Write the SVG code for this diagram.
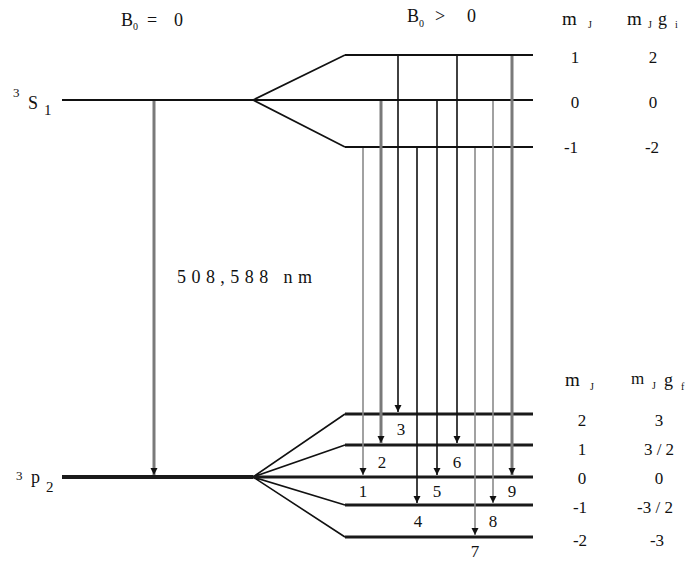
<svg xmlns="http://www.w3.org/2000/svg" width="693" height="561" viewBox="0 0 693 561">
<defs>
<marker id="ah" markerUnits="userSpaceOnUse" markerWidth="8" markerHeight="8" refX="7" refY="3.5" orient="auto">
<path d="M0,0 L7,3.5 L0,7 z" fill="#111"/>
</marker>
<style>
text{font-family:"Liberation Serif","Times New Roman",serif;fill:#111}
.lvl{stroke:#111;stroke-width:2;fill:none}
.lvlb{stroke:#1a1a1a;stroke-width:3;fill:none}
.fan{stroke:#111;stroke-width:1.6;fill:none}
.tk{stroke:#111;stroke-width:1.6;marker-end:url(#ah)}
.tg{stroke:#7a7a7a;stroke-width:3;marker-end:url(#ah)}
.tl{stroke:#8a8a8a;stroke-width:1.6;marker-end:url(#ah)}
.v{font-size:17px;text-anchor:middle}
.n{font-size:17px;text-anchor:middle}
.m{font-size:19px}
.s{font-size:10px}
</style>
</defs>
<rect width="693" height="561" fill="#fff"/>

<g id="headers">
<text x="121" y="26" font-size="18">B</text><text x="133" y="30" class="s">0</text>
<text x="147" y="26" font-size="18">=</text><text x="174" y="26" font-size="18">0</text>
<text x="407" y="22" font-size="18">B</text><text x="419" y="27" class="s">0</text>
<text x="435" y="22" font-size="18">&gt;</text><text x="467" y="22" font-size="18">0</text>
<text x="562" y="25" class="m">m</text><text x="588" y="28" class="s">J</text>
<text x="627" y="25" class="m">m</text><text x="648" y="28" class="s">J</text><text x="658" y="25" font-size="18">g</text><text x="675" y="28" class="s">i</text>
<text x="565" y="386" class="m">m</text><text x="590" y="390" class="s">J</text>
<text x="631" y="384" font-size="17">m</text><text x="652" y="389" class="s">J</text><text x="664" y="386" font-size="18">g</text><text x="681" y="390" class="s">f</text>
</g>

<g id="level-3S1">
<text x="13" y="97" font-size="13">3</text><text x="28" y="109" font-size="18">S</text><text x="44" y="115" font-size="15">1</text>
<line class="lvl" x1="62" y1="100" x2="253" y2="100"/>
<path class="fan" d="M253,100 L345,55 M253,100 L345,147"/>
</g>

<g id="level-3S1-mJ">
<line class="lvl" x1="345" y1="55" x2="533" y2="55"/>
<line class="lvl" x1="253" y1="100" x2="533" y2="100"/>
<line class="lvl" x1="345" y1="147" x2="533" y2="147"/>
<text class="v" x="575" y="63">1</text><text class="v" x="653" y="63">2</text>
<text class="v" x="575" y="108">0</text><text class="v" x="653" y="108">0</text>
<text class="v" x="571" y="153">-1</text><text class="v" x="652" y="153">-2</text>
</g>

<g id="level-3P2">
<text x="16" y="480" font-size="13">3</text><text x="31" y="483" font-size="18">p</text><text x="46" y="492" font-size="15">2</text>
<line stroke="#1a1a1a" stroke-width="4" x1="62" y1="477" x2="253" y2="477"/>
<path class="fan" d="M253,477 L345,414 M253,477 L345,445 M253,477 L345,505 M253,477 L345,537"/>
</g>

<g id="level-3P2-mJ">
<line class="lvlb" x1="345" y1="414" x2="533" y2="414"/>
<line class="lvlb" x1="345" y1="445" x2="533" y2="445"/>
<line class="lvlb" x1="253" y1="477" x2="533" y2="477"/>
<line class="lvlb" x1="345" y1="505" x2="533" y2="505"/>
<line class="lvlb" x1="345" y1="537" x2="533" y2="537"/>
<text class="v" x="582" y="426">2</text><text class="v" x="659" y="426">3</text>
<text class="v" x="582" y="455">1</text><text class="v" x="659" y="455">3 / 2</text>
<text class="v" x="582" y="484">0</text><text class="v" x="659" y="484">0</text>
<text class="v" x="580" y="513">-1</text><text class="v" x="655" y="513">-3 / 2</text>
<text class="v" x="580" y="546">-2</text><text class="v" x="657" y="546">-3</text>
</g>

<g id="connectors">
<line class="tg" x1="154" y1="101" x2="154" y2="475"/>
<line class="tl" x1="363" y1="148" x2="363" y2="475"/>
<line class="tg" x1="381" y1="101" x2="381" y2="443"/>
<line class="tk" x1="398" y1="56" x2="398" y2="412"/>
<line class="tk" x1="417" y1="148" x2="417" y2="503"/>
<line class="tk" x1="437" y1="101" x2="437" y2="475"/>
<line class="tk" x1="457" y1="56" x2="457" y2="443"/>
<line class="tl" x1="475" y1="148" x2="475" y2="535"/>
<line class="tl" x1="493" y1="101" x2="493" y2="503"/>
<line class="tg" x1="512" y1="56" x2="512" y2="475"/>
</g>

<g id="labels">
<text x="177" y="283" font-size="18" textLength="135" lengthAdjust="spacing">508,588 nm</text>
<text class="n" x="401" y="435">3</text>
<text class="n" x="382" y="468">2</text>
<text class="n" x="457" y="468">6</text>
<text class="n" x="363" y="497">1</text>
<text class="n" x="437" y="497">5</text>
<text class="n" x="512" y="497">9</text>
<text class="n" x="418" y="527">4</text>
<text class="n" x="493" y="527">8</text>
<text class="n" x="475" y="557">7</text>
</g>
</svg>
